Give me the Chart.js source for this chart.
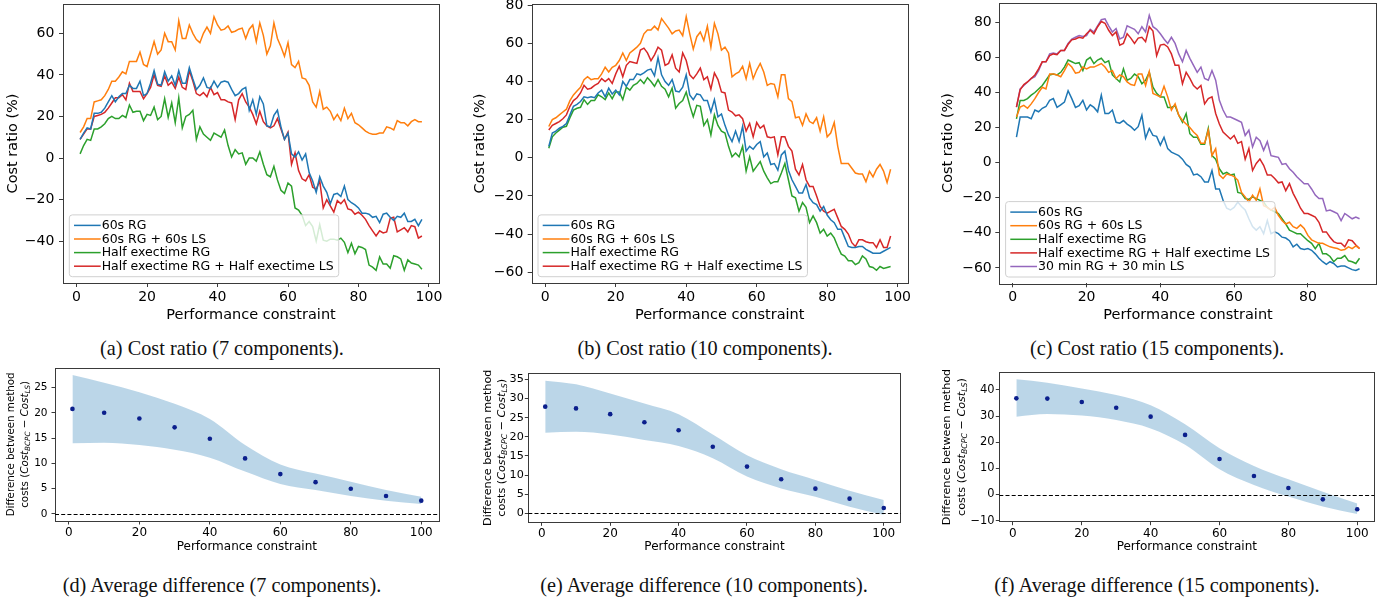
<!DOCTYPE html>
<html>
<head>
<meta charset="utf-8">
<script src="https://cdn.jsdelivr.net/npm/chart.js@4.4.0/dist/chart.umd.min.js"></script>
<style>
  body { margin: 0; background: #fff; width: 1396px; height: 602px; overflow: hidden; position: relative; }
  .panel { position: absolute; }
  .cap { position: absolute; font-family: 'Liberation Serif', serif; font-size: 20.3px; line-height: 1; color: #111; transform: translateX(-50%); white-space: nowrap; }
</style>
</head>
<body>
<div class="panel" style="left:0;top:0"><canvas id="chartA" width="460" height="330"></canvas></div>
<div class="panel" style="left:460px;top:0"><canvas id="chartB" width="470" height="330"></canvas></div>
<div class="panel" style="left:930px;top:0"><canvas id="chartC" width="466" height="330"></canvas></div>
<div class="panel" style="left:0;top:360px"><canvas id="chartD" width="460" height="200"></canvas></div>
<div class="panel" style="left:460px;top:360px"><canvas id="chartE" width="470" height="200"></canvas></div>
<div class="panel" style="left:930px;top:360px"><canvas id="chartF" width="466" height="200"></canvas></div>

<div class="cap" style="left:222px;top:338px">(a) Cost ratio (7 components).</div>
<div class="cap" style="left:705px;top:338px">(b) Cost ratio (10 components).</div>
<div class="cap" style="left:1157px;top:338px">(c) Cost ratio (15 components).</div>
<div class="cap" style="left:222px;top:575px">(d) Average difference (7 components).</div>
<div class="cap" style="left:704px;top:575px">(e) Average difference (10 components).</div>
<div class="cap" style="left:1157px;top:575px">(f) Average difference (15 components).</div>

<script>
// --- Data ---
const seriesLabels = ['60s RG', '60s RG + 60s LS', 'Half exectime RG', 'Half exectime RG + Half exectime LS', '30 min RG + 30 min LS'];
const colors = ['#1f77b4', '#ff7f0e', '#2ca02c', '#d62728', '#9467bd'];

// performance constraint levels (1..98 for 7 and 10 components, 1..94 for 15)
const constraintAB = Array.from({ length: 98 }, (_, i) => i + 1);
const constraintC = Array.from({ length: 94 }, (_, i) => i + 1);

// (a) 7 components
const a60RG = [9,12,14.5,14,21.5,21.5,22,24,27,30, 27,29.5,31,31,35,33.5,33.5,37,30,31, 36,42,35.5,35,41.5,37,39.5,35,42,36, 36,43.5,38,33,35,38.5,34,33.5,37,34, 36.5,37,36.5,33,30,31,33,34,23,28, 21,29.5,26,15.5,15,20.5,23,15,9,12, 2,0.5,3,-1,2,-7,-11,-16.5,-9,-13.5, -16.5,-22,-17.5,-17,-18.5,-13.5,-20,-21.5,-22.5,-24, -26.5,-26.5,-27,-28.5,-28,-31,-27,-26.5,-28.5,-30, -28,-28.5,-26.5,-30.5,-30.5,-29.5,-32.5,-29.5];
const a60LS = [12.3,15,19,19,27,27.5,28,30,33,37, 37,39,41.5,40.5,46.5,46.5,46.5,51,45,44, 50,56,50,52,60,56,56,52,66,57.5, 57.5,64,60,57,55.5,60,63,60,68,64, 61.5,62,63.5,60.5,61,62,62.5,57.5,62,64, 56,65,59,50,54,65,57.5,53.5,49,55.5, 45,43.5,46.5,38.5,38,35,27,24.5,32,23.5, 24.5,22.5,18.5,21,18,24,19,21.5,17,16, 14.5,13,12,11.5,11.5,12,12,15,14.5,13.5, 18,17,17,15.5,17.5,18.5,17.5,17.5];
const aHalfRG = [2,6,9,8.5,14,14,15,16.5,19,20, 19,19,20.5,19.5,25.5,22,22.5,22.5,18,21, 20.5,24.5,18.5,20,28.5,19.5,26.5,17,29,14.5, 20,21,23,9,15,11.5,10,8.5,12,11, 10,13.5,6,0.5,4,2,2.5,-3,0,0, -1.5,3,-3,-8,-9,-4,-10.5,-15.5,-17,-12, -13.5,-24,-25,-27.5,-32.5,-30.5,-33,-40,-32,-39.5, -40,-39,-39,-39.5,-38.5,-40.5,-45.5,-41,-46,-42.5, -43,-44,-51.5,-52.5,-54,-47.5,-51,-51,-53,-47, -47.5,-48.5,-54,-49,-50.5,-51,-51.5,-53.5];
const aHalfLS = [9,11.5,14,14,20,20.5,21,22,24,26.5, 29,29,30.5,28,36,32,32,32,28.5,31, 34,40,35,34.5,39.5,35,36.5,33.5,39,34, 33,42,37,31,30,31.5,29.5,34,30.5,31.5, 28,28,27,26.5,18.5,28,31,27,24.5,21, 16.5,22.5,17.5,15.5,14.5,15.5,19,14,9,12.5, -3,2.5,-6,-10,-11,-8,-14,-15,-11,-24, -20,-23,-26,-20.5,-22,-20,-24.5,-25,-27,-26, -27.5,-29.5,-32.5,-35,-37.5,-35,-36,-35.5,-29,-28.5, -35.5,-34.5,-33.5,-35.5,-32.5,-33,-38.5,-37.5];

// (b) 10 components
const b60RG = [6,13,14,15.5,16.5,18,22.5,27,28,29.5, 32,31.5,32,31.5,34,35.5,32,36.5,33.5,35.5, 33,40,37.5,41,41,44,43.5,44.5,46,46.5, 43,52.5,43.5,40,38,41,35,34.5,37,43.5, 33,30.5,33.5,33,30,30,24,30.5,21.5,23, 17,12,8.5,14,8.5,16.5,3.5,6,4.5,7, 8.5,0.5,2.5,-3.5,-3,-6.5,1.5,3.5,-6.5,-11.5, -15,-18.5,-18.5,-14,-21,-23.5,-24.5,-28,-25.5,-30, -32.5,-34,-37.5,-37.5,-42,-46.5,-47,-47,-46.5,-46.5, -48,-49,-50,-50,-50,-49,-48,-47];
const b60LS = [16.4,20,21,22.5,24,25.5,30,33,35,37, 41,42.5,41,41.5,41.5,44,47.5,45,47.5,48.5, 51,55,51,55,56.5,58,60,65,67,67, 69,67,73,70.5,68,65,66.5,67,64,74, 65,57,63.5,66,61.5,69,58,70.5,65,56.5, 58,55,42.5,44,45,48,41.5,49.5,41.5,46, 49.5,45,38,39,38.5,32,43.5,43.5,31,29.5, 21,21.5,17,23,19,18,21,14,21.5,11, 13,18.5,6,-3,-3,-3,-5.5,-8,-8.5,-8.5, -12.5,-7,-10,-6,-3.5,-7,-13,-6];
const bHalfRG = [5,11,13,14.5,16,16.5,21,25,26,26.5, 30.5,28,30,30,33,32,30.5,34,31,34.5, 34.5,30.5,37,35.5,38,39,41,39,42,40, 37.5,41,37.5,36,32,36.5,26,28.5,30,34.5, 27.5,21.5,27.5,27,17,20,12,22.5,17,14, 13,6,0.5,2.5,0.5,6,-7,0.5,-7,-4.5, -2,-7,-10.5,-13.5,-12.5,-12.5,-8,-3,-11.5,-20, -21,-28,-23.5,-26,-34,-30.5,-34,-39.5,-37.5,-41, -39.5,-42,-46.5,-50.5,-51.5,-54,-54,-56,-55,-51.5, -53,-57,-57.5,-59,-57,-58,-57.5,-57];
const bHalfLS = [14.6,17,18,19,20.5,22.5,27,30,31.5,34, 38,36,36.5,38,39,41.5,40,41.5,39,44, 48,42.5,48.5,50.5,50,49.5,56.5,57.5,55,51, 54,58,56.5,48.5,49.5,54,47,45,55,51, 43.5,41.5,44,47,41,42.5,36,44.5,41,34.5, 34,25,24,22,22.5,20.5,14,18,11,18.5, 15.5,17,11,10.5,11,1.5,11,11,6,3.5, -6,-9,-3.5,-11.5,-15,-15,-20,-25.5,-28,-29, -28,-27,-31.5,-36,-37.5,-40,-44.5,-46.5,-43,-43, -44,-44.5,-44.5,-47,-43,-47,-47,-41];

// (c) 15 components
const c60RG = [14.5,26,26,26,25,30,29,31,32,35.5, 36.5,31.5,33,34.5,41,36.5,31.5,32.5,35.5,30, 33,31.5,29,38.5,28,28,30,23,22.5,24, 22,20.5,18.5,20.5,27,14,19.5,15.5,15,10, 14.5,8,6,5,4,2,-1,-2.5,-7,-6.5, -8,-11,-11,-4.5,-15,-15,-21.5,-26,-27,-25.5, -22.5,-25,-27,-32,-36.5,-38.5,-36.5,-40.5,-33,-40.5, -39.5,-40.5,-42.5,-43,-44.5,-48,-46.5,-49,-49.5,-49, -50,-52,-54.5,-56.5,-58,-56.5,-57.5,-59.5,-59,-59, -60,-61,-61.5,-60.5];
const c60LS = [26,31.7,32.7,31,33.5,36.5,40,43,42,50.5, 50.5,50,49,52.5,56.5,54.5,51,51.5,54.5,53.5, 54.5,54.5,55.5,56.5,54.5,51.5,52.5,48,50,49, 46,44.5,44,50.5,50.5,44,52,39.5,38.5,37.5, 43.5,37.5,30,33.5,27,24,22,20,17.5,15.5, 11,11,18.5,4,8,-7,-9,-6.5,-7,-8, -10,-17,-19.5,-22.5,-18.5,-21.5,-15,-24.5,-25.5,-27, -25.5,-30,-33,-35,-34,-36.5,-37.5,-35.5,-37.5,-41.5, -44,-45,-46,-46,-47,-48,-48.5,-49,-50,-49.5, -48,-49,-47.5,-49];
const cHalfRG = [25,35.5,35.5,36.5,38.5,40,42,44,47,50, 50.5,50,51.5,54.5,58.5,57.5,56.5,57,52.5,58.5, 60,56.5,58.5,59.5,57,58,50,48,46,53.5, 47,48,50.5,49,45,47,51.5,43,39.5,37.5, 37.5,31.5,31.5,32.5,27,23,28,16.5,14.5,14.5, 10.5,10.5,19.5,4,2,-3.5,-6.5,-5.5,-7,-6.5, -17,-17.5,-20.5,-21,-19.5,-20.5,-21.5,-22.5,-25.5,-27, -28,-29,-32,-35,-38.5,-39.5,-40.5,-40.5,-42.5,-44.5, -46,-49,-46,-52,-52,-53.5,-56.5,-54.5,-54.5,-53, -56,-56.5,-57.5,-54.5];
const cHalfLS = [31.7,41.5,44.5,46,48,50,53.5,57.5,57.5,61, 62,61.5,64,64,67.5,70,70.5,71.5,71,73.5, 75.5,73.5,77.5,80.5,79.5,75.5,72.5,74.5,67,68, 73.5,71,68,71,71.5,69,77.5,75,61,67, 67.5,66,62,55.5,55.5,45,51.5,48,44,42, 44,33.5,36.5,37.5,28,22,17.5,15.5,13.5,15.5, 11,12,2,8,-4.5,-0.5,2,-1.5,-7,-7, -9,-11.5,-11,-16,-12,-17.5,-21.5,-26,-29,-29, -30,-31,-34,-39.5,-39.5,-42.5,-45,-46,-46,-48, -44,-44.5,-47,-49];
const c30min = [31.7,42,44,46,48,49,52.5,57.5,57.5,62, 62.5,62,64,64,68,70.5,71.5,72.5,72,72.5, 76,74.5,78,81.5,82,78,74.5,76.5,70.5,71.5, 78,77,76,73.5,77.5,74.5,84,77.5,76,73.5, 70.5,68,71.5,68,62,57.5,64,59.5,55.5,51.5, 54.5,48,47,52.5,47,35.5,30,26,26,25, 24,23,15.5,18.5,9,14.5,12.5,7,12,4, 3.5,3,-1,-0.5,-3.5,-5.5,-8,-10,-12,-12, -15,-18.5,-20.5,-20.5,-27.5,-27,-28,-29,-33,-29, -30.5,-32,-31,-32];

// (d)-(f) average difference with spread
const diffX = [1, 10, 20, 30, 40, 50, 60, 70, 80, 90, 100];
const dMean  = [20.8, 20.05, 18.9, 17.15, 14.9, 11.0, 7.9, 6.3, 5.0, 3.56, 2.64];
const dUpper = [27.5, 26, 24.1, 21.8, 18.8, 13.65, 9.8, 8.0, 6.4, 4.75, 3.4];
const dLower = [14.0, 14.1, 13.65, 12.7, 11.15, 8.4, 5.95, 4.75, 3.56, 2.64, 1.98];
const eMean  = [27.86, 27.4, 25.9, 23.8, 21.7, 17.4, 12.2, 8.9, 6.44, 3.83, 1.39];
const eUpper = [34.65, 33.7, 31.3, 28.7, 25.9, 20.6, 15.15, 11.5, 8.7, 5.9, 3.5];
const eLower = [21.07, 21.3, 20.6, 19.15, 17.6, 14.4, 9.6, 6.5, 4.35, 1.74, -0.4];
const fMean  = [36.8, 36.7, 35.4, 33.2, 29.8, 22.8, 13.6, 7.1, 2.5, -1.85, -5.66];
const fUpper = [44.1, 42.8, 40.6, 38.1, 34.2, 26.9, 17.7, 10.9, 5.8, 1.1, -3.4];
const fLower = [29.8, 30.8, 30.2, 28.5, 25.3, 19.0, 9.65, 3.65, -0.8, -4.6, -7.45];

// tick labels
const xTicksTop = [0, 20, 40, 60, 80, 100];
const xTicksC = [0, 20, 40, 60, 80];
const yTicksA = [-40, -20, 0, 20, 40, 60];
const yTicksBC = [-60, -40, -20, 0, 20, 40, 60, 80];
const xTicksDiff = [0, 20, 40, 60, 80, 100];
const yTicksD = [0, 5, 10, 15, 20, 25];
const yTicksE = [0, 5, 10, 15, 20, 25, 30, 35];
const yTicksF = [-10, 0, 10, 20, 30, 40];

Chart.defaults.font.family = 'DejaVu Sans';
Chart.defaults.color = '#000';

const fmt = v => v < 0 ? '\u2212' + Math.abs(v) : String(v);

// matplotlib style frame round the plot area
const frame = {
    id: 'frame',
    afterDatasetsDraw(chart) {
        const a = chart.chartArea, ctx = chart.ctx;
        ctx.save();
        ctx.strokeStyle = '#3a3a3a';
        ctx.lineWidth = 1;
        ctx.strokeRect(Math.round(a.left) + 0.5, Math.round(a.top) + 0.5,
            Math.round(a.right - a.left), Math.round(a.bottom - a.top));
        ctx.restore();
    }
};

// legend box in the lower left corner, like plt.legend(loc='lower left')
const mplLegend = {
    id: 'mplLegend',
    afterDatasetsDraw(chart, args, o) {
        if (!o.show) return;
        const ctx = chart.ctx, a = chart.chartArea;
        const items = chart.data.datasets;
        ctx.save();
        ctx.font = '12.5px "DejaVu Sans"';
        const textW = Math.max(...items.map(d => ctx.measureText(d.label).width));
        const w = 32.4 + textW + 5;
        const rowH = 13.6;
        const h = items.length * rowH + 7.4;
        const x0 = a.left + 6.3, y0 = a.bottom - 6.3 - h;
        ctx.beginPath();
        ctx.roundRect(x0, y0, w, h, 3);
        ctx.fillStyle = 'rgba(255,255,255,0.8)';
        ctx.fill();
        ctx.strokeStyle = '#d0d0d0';
        ctx.lineWidth = 1;
        ctx.stroke();
        ctx.textBaseline = 'middle';
        items.forEach((d, i) => {
            const y = y0 + 3.7 + rowH * (i + 0.5);
            ctx.strokeStyle = d.borderColor;
            ctx.lineWidth = 1.5;
            ctx.beginPath();
            ctx.moveTo(x0 + 4.7, y);
            ctx.lineTo(x0 + 31.4, y);
            ctx.stroke();
            ctx.fillStyle = '#000';
            ctx.fillText(d.label, x0 + 32.4, y + 0.5);
        });
        ctx.restore();
    }
};

// dashed line at zero
const zeroLine = {
    id: 'zeroLine',
    afterDatasetsDraw(chart, args, o) {
        if (!o.show) return;
        const ctx = chart.ctx, a = chart.chartArea;
        const y = Math.round(chart.scales.y.getPixelForValue(0)) + 0.5;
        ctx.save();
        ctx.strokeStyle = '#000';
        ctx.lineWidth = 1;
        ctx.setLineDash([4, 2.2]);
        ctx.beginPath();
        ctx.moveTo(a.left, y);
        ctx.lineTo(a.right, y);
        ctx.stroke();
        ctx.restore();
    }
};

// two line y title with math subscripts
const yTitle2 = {
    id: 'yTitle2',
    afterDraw(chart, args, o) {
        if (!o.show) return;
        const ctx = chart.ctx, a = chart.chartArea;
        const cy = (a.top + a.bottom) / 2;
        const sz = o.size;
        ctx.save();
        ctx.fillStyle = '#000';
        ctx.textBaseline = 'middle';
        ctx.translate(o.x1, cy);
        ctx.rotate(-Math.PI / 2);
        ctx.font = sz + 'px "DejaVu Sans"';
        ctx.textAlign = 'center';
        ctx.fillText('Difference between method', 0, 0);
        ctx.restore();

        const parts = [
            { t: 'costs (', f: sz + 'px "DejaVu Sans"', dy: 0 },
            { t: 'Cost', f: 'italic ' + sz + 'px "DejaVu Sans"', dy: 0 },
            { t: 'BCPC', f: 'italic ' + (sz * 0.7) + 'px "DejaVu Sans"', dy: sz * 0.25 },
            { t: ' \u2212 ', f: sz + 'px "DejaVu Sans"', dy: 0 },
            { t: 'Cost', f: 'italic ' + sz + 'px "DejaVu Sans"', dy: 0 },
            { t: 'LS', f: 'italic ' + (sz * 0.7) + 'px "DejaVu Sans"', dy: sz * 0.25 },
            { t: ')', f: sz + 'px "DejaVu Sans"', dy: 0 }
        ];
        ctx.save();
        ctx.fillStyle = '#000';
        ctx.textBaseline = 'middle';
        ctx.textAlign = 'left';
        let total = 0;
        parts.forEach(p => { ctx.font = p.f; p.w = ctx.measureText(p.t).width; total += p.w; });
        ctx.translate(o.x2, cy);
        ctx.rotate(-Math.PI / 2);
        let x = -total / 2;
        parts.forEach(p => { ctx.font = p.f; ctx.fillText(p.t, x, p.dy); x += p.w; });
        ctx.restore();
    }
};

function topChart(id, xs, series, o) {
    new Chart(document.getElementById(id), {
        type: 'line',
        data: {
            datasets: series.map((vals, i) => ({
                label: seriesLabels[i],
                data: vals.map((v, j) => ({ x: xs[j], y: v })),
                borderColor: colors[i],
                borderWidth: 1.5,
                pointRadius: 0,
                tension: 0,
                fill: false,
                order: i
            }))
        },
        options: {
            responsive: false,
            animation: false,
            devicePixelRatio: 1,
            layout: { padding: o.pad, autoPadding: false },
            plugins: {
                legend: { display: false },
                tooltip: { enabled: false },
                mplLegend: { show: true }
            },
            scales: {
                x: {
                    type: 'linear', min: o.xMin, max: o.xMax,
                    afterBuildTicks: s => { s.ticks = o.xTicks.map(v => ({ value: v })); },
                    afterFit: s => { s.height = o.xH; s.paddingLeft = 0; s.paddingRight = 0; },
                    grid: { drawOnChartArea: false, drawTicks: true, tickLength: 4, color: '#3a3a3a' },
                    border: { display: false },
                    ticks: { font: { size: 14 }, padding: 2, maxRotation: 0, callback: fmt },
                    title: { display: true, text: 'Performance constraint', font: { size: 14.5 }, padding: 0 }
                },
                y: {
                    min: o.yMin, max: o.yMax,
                    afterBuildTicks: s => { s.ticks = o.yTicks.map(v => ({ value: v })); },
                    afterFit: s => { s.width = o.yW; s.paddingTop = 0; s.paddingBottom = 0; },
                    grid: { drawOnChartArea: false, drawTicks: true, tickLength: 4, color: '#3a3a3a' },
                    border: { display: false },
                    ticks: { font: { size: 14 }, padding: o.yPad, callback: fmt },
                    title: { display: true, text: 'Cost ratio (%)', font: { size: 14.5 }, padding: 0 }
                }
            }
        },
        plugins: [frame, mplLegend]
    });
}

function diffChart(id, mean, upper, lower, o) {
    const pts = arr => arr.map((v, j) => ({ x: diffX[j], y: v }));
    new Chart(document.getElementById(id), {
        type: 'line',
        data: {
            datasets: [
                { label: 'mean', data: pts(mean), showLine: false, pointRadius: 2.3, pointBorderWidth: 0,
                  pointBackgroundColor: '#0b1f8c', borderColor: '#0b1f8c' },
                { label: 'upper', data: pts(upper), borderWidth: 0, pointRadius: 0, cubicInterpolationMode: 'monotone', fill: false },
                { label: 'lower', data: pts(lower), borderWidth: 0, pointRadius: 0, cubicInterpolationMode: 'monotone',
                  fill: 1, backgroundColor: 'rgba(31,119,180,0.3)' }
            ]
        },
        options: {
            responsive: false,
            animation: false,
            devicePixelRatio: 1,
            layout: { padding: o.pad, autoPadding: false },
            plugins: {
                legend: { display: false },
                tooltip: { enabled: false },
                zeroLine: { show: true },
                yTitle2: { show: true, x1: o.t1, x2: o.t2, size: o.tSize }
            },
            scales: {
                x: {
                    type: 'linear', min: -3.95, max: 104.95,
                    afterBuildTicks: s => { s.ticks = xTicksDiff.map(v => ({ value: v })); },
                    afterFit: s => { s.height = o.xH; s.paddingLeft = 0; s.paddingRight = 0; },
                    grid: { drawOnChartArea: false, drawTicks: true, tickLength: 3.5, color: '#3a3a3a' },
                    border: { display: false },
                    ticks: { font: { size: 12 }, padding: 1, maxRotation: 0, callback: fmt },
                    title: { display: true, text: 'Performance constraint', font: { size: 12 }, padding: 0 }
                },
                y: {
                    min: o.yMin, max: o.yMax,
                    afterBuildTicks: s => { s.ticks = o.yTicks.map(v => ({ value: v })); },
                    afterFit: s => { s.width = o.yW; s.paddingTop = 0; s.paddingBottom = 0; },
                    grid: { drawOnChartArea: false, drawTicks: true, tickLength: 3.5, color: '#3a3a3a' },
                    border: { display: false },
                    ticks: { font: { size: o.yFont }, padding: o.yPad, callback: fmt }
                }
            }
        },
        plugins: [frame, zeroLine, yTitle2]
    });
}

topChart('chartA', constraintAB, [a60RG, a60LS, aHalfRG, aHalfLS], {
    pad: { left: 4.6, right: 21, top: 4, bottom: 6.3 }, yW: 58.4, xH: 40.7, yPad: 4.7,
    xMin: -3.85, xMax: 102.85, yMin: -60.1, yMax: 74.1, xTicks: xTicksTop, yTicks: yTicksA
});
topChart('chartB', constraintAB, [b60RG, b60LS, bHalfRG, bHalfLS], {
    pad: { left: 12, right: 22.3, top: 4, bottom: 6.3 }, yW: 59.7, xH: 40.7, yPad: 4.4,
    xMin: -3.85, xMax: 102.85, yMin: -65.65, yMax: 80.65, xTicks: xTicksTop, yTicks: yTicksBC
});
topChart('chartC', constraintC, [c60RG, c60LS, cHalfRG, cHalfLS, c30min], {
    pad: { left: 9.6, right: 19.3, top: 2.7, bottom: 6.3 }, yW: 59.7, xH: 40.4, yPad: 3.6,
    xMin: -3.65, xMax: 98.65, yMin: -68.8, yMax: 91.2, xTicks: xTicksC, yTicks: yTicksBC
});

diffChart('chartD', dMean, dUpper, dLower, {
    pad: { left: 0, right: 21.3, top: 7.7, bottom: 6.1 }, yW: 55, xH: 32.9, yPad: 4, yFont: 10.5,
    yMin: -1.39, yMax: 28.96, yTicks: yTicksD, t1: 11, t2: 25.5, tSize: 10.3
});
diffChart('chartE', eMean, eUpper, eLower, {
    pad: { left: 0, right: 29.3, top: 13.3, bottom: 6.1 }, yW: 68.3, xH: 31.6, yPad: 1, yFont: 11.2,
    yMin: -2.35, yMax: 36.57, yTicks: yTicksE, t1: 28, t2: 41.7, tSize: 11.2
});
diffChart('chartF', fMean, fUpper, fLower, {
    pad: { left: 0, right: 21.7, top: 12.3, bottom: 6.1 }, yW: 69.3, xH: 32.2, yPad: 1.3, yFont: 11.4,
    yMin: -10.4, yMax: 46.76, yTicks: yTicksF, t1: 17.3, t2: 32.3, tSize: 11.2
});
</script>
</body>
</html>
